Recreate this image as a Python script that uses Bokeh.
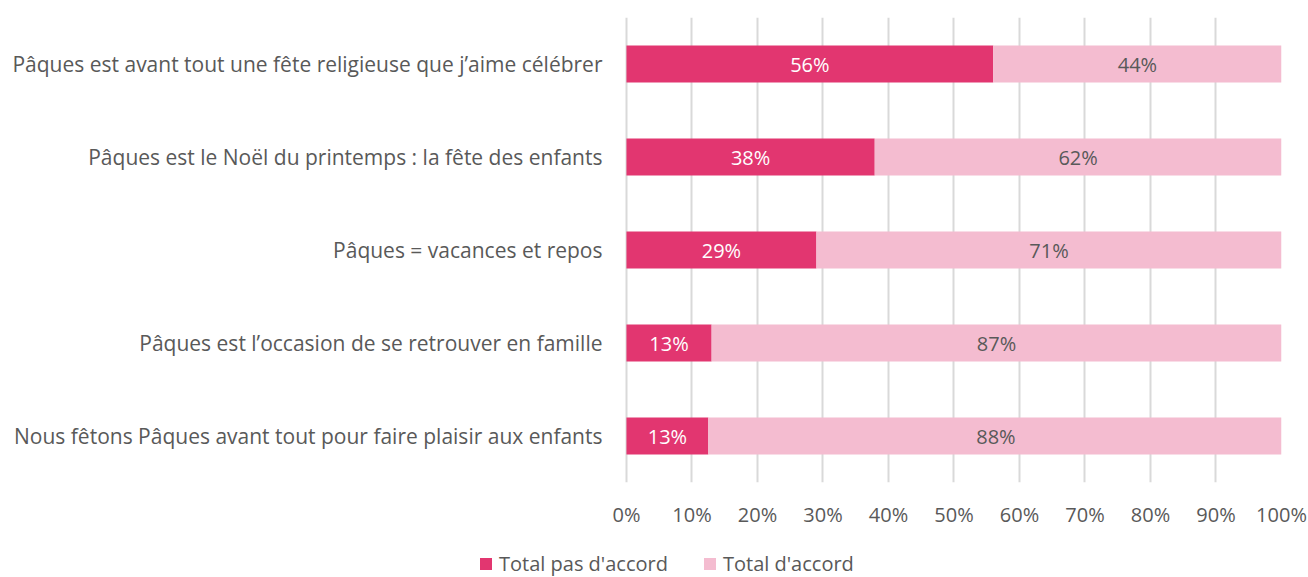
from bokeh.plotting import figure
from bokeh.layouts import column
from bokeh.models import ColumnDataSource, FactorRange, Legend, LegendItem, FixedTicker, CustomJSTickFormatter
from bokeh.core.properties import value
from bokeh.embed import file_html
from bokeh.resources import INLINE

categories = [
    "Pâques est avant tout une fête religieuse que j’aime célébrer",
    "Pâques est le Noël du printemps : la fête des enfants",
    "Pâques = vacances et repos",
    "Pâques est l’occasion de se retrouver en famille",
    "Nous fêtons Pâques avant tout pour faire plaisir aux enfants",
]
pas_accord = [56.0, 37.9, 29.0, 13.0, 12.5]
accord = [44.0, 62.1, 71.0, 87.0, 87.8]
pas_accord_labels = ["56%", "38%", "29%", "13%", "13%"]
accord_labels = ["44%", "62%", "71%", "87%", "88%"]
series_names = ["Total pas d'accord", "Total d'accord"]
x_ticks = [0, 10, 20, 30, 40, 50, 60, 70, 80, 90, 100]

FONT = "Open Sans"
TXT = "#595959"
DARK = "#E23670"
LIGHT = "#F4BCD0"

src = ColumnDataSource(dict(
    cat=categories,
    pas=pas_accord,
    acc=accord,
    pas_mid=[v / 2 for v in pas_accord],
    acc_mid=[a + b / 2 for a, b in zip(pas_accord, accord)],
    pas_lbl=pas_accord_labels,
    acc_lbl=accord_labels,
))

p = figure(width=1308, height=540, output_backend="svg", toolbar_location=None,
           y_range=FactorRange(*reversed(categories), range_padding=0),
           x_range=(-0.3, 100),
           min_border_left=624, min_border_right=27, min_border_top=17, min_border_bottom=58)
p.outline_line_color = None

r = p.hbar_stack(["pas", "acc"], y="cat", height=0.4, color=[DARK, LIGHT], line_color=None, source=src)

p.text(x="pas_mid", y="cat", text="pas_lbl", source=src, text_align="center", text_baseline="middle",
       text_color="white", text_font=value(FONT), text_font_size="20px")
p.text(x="acc_mid", y="cat", text="acc_lbl", source=src, text_align="center", text_baseline="middle",
       text_color=TXT, text_font=value(FONT), text_font_size="20px")

p.xaxis.ticker = FixedTicker(ticks=x_ticks)
p.xaxis.formatter = CustomJSTickFormatter(code="return tick + '%';")
p.xaxis.axis_line_color = None
p.xaxis.major_tick_line_color = None
p.xaxis.minor_tick_line_color = None
p.xaxis.major_label_text_font = FONT
p.xaxis.major_label_text_font_size = "20px"
p.xaxis.major_label_text_color = TXT
p.xaxis.major_label_standoff = 12

p.yaxis.axis_line_color = None
p.yaxis.major_tick_line_color = None
p.yaxis.major_label_text_font = FONT
p.yaxis.major_label_text_font_size = "21px"
p.yaxis.major_label_text_color = TXT
p.yaxis.major_label_standoff = 16

p.xgrid.grid_line_color = "#D9D9D9"
p.xgrid.grid_line_width = 2
p.ygrid.grid_line_color = None

# legend strip: its own full-width frame (not aligned to the main plot's frame)
lg = figure(width=1308, height=37, output_backend="svg", toolbar_location=None,
            x_range=(0, 1), y_range=(0, 1), frame_align=False,
            min_border_left=0, min_border_right=0, min_border_top=0, min_border_bottom=0)
lg.outline_line_color = None
lg.xaxis.visible = False
lg.yaxis.visible = False
lg.grid.visible = False
# legend-only swatches, placed outside the visible range
dummy = ColumnDataSource(dict(left=[5], right=[6], bottom=[5], top=[6]))
lr1 = lg.quad(left="left", right="right", bottom="bottom", top="top", source=dummy,
              fill_color=DARK, line_color=None)
lr2 = lg.quad(left="left", right="right", bottom="bottom", top="top", source=dummy,
              fill_color=LIGHT, line_color=None)
legend = Legend(items=[LegendItem(label=series_names[0], renderers=[lr1]),
                       LegendItem(label=series_names[1], renderers=[lr2])],
                orientation="horizontal", location=(478, 0),
                label_text_font=FONT, label_text_font_size="20px", label_text_color=TXT,
                glyph_width=15, glyph_height=15, spacing=34, label_standoff=6,
                border_line_color=None, background_fill_alpha=0, padding=0, margin=0)
lg.add_layout(legend, "center")

layout = column(p, lg, spacing=0)
open("out.html", "w").write(file_html(layout, INLINE))
